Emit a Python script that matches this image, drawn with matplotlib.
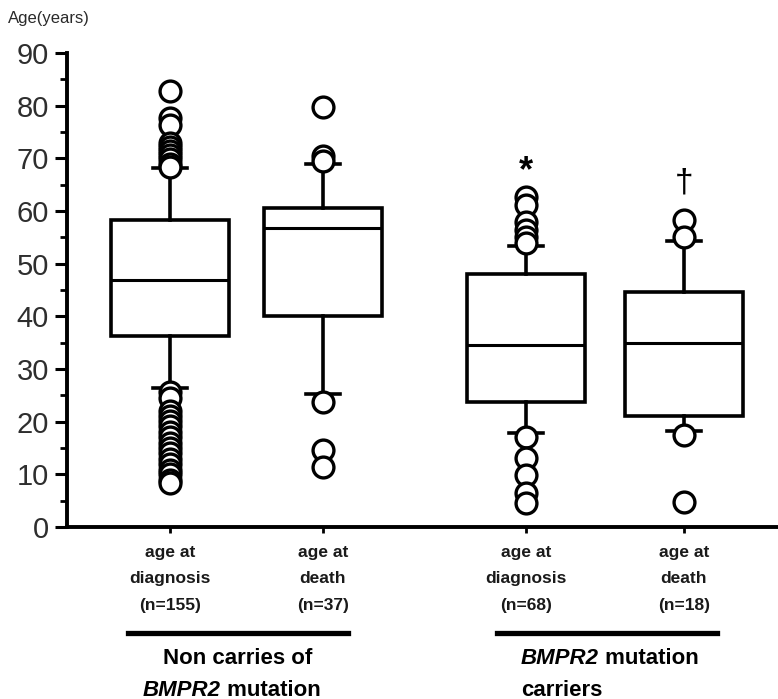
"""Age at diagnosis / death, BMPR2 carriers vs non carriers (box plots)."""

import matplotlib
matplotlib.use('agg')
from matplotlib import pyplot as plt
from matplotlib.lines import Line2D
from matplotlib.ticker import MultipleLocator

W, H = 778, 699

# --- data ---
labels = ['age at\ndiagnosis\n(n=155)', 'age at\ndeath\n(n=37)',
          'age at\ndiagnosis\n(n=68)', 'age at\ndeath\n(n=18)']
q1 = [36.3, 40.0, 23.8, 21.1]
medians = [46.9, 56.8, 34.6, 35.0]
q3 = [58.3, 60.5, 48.1, 44.7]
whisker_low = [26.3, 25.3, 17.8, 18.3]
whisker_high = [68.1, 68.9, 53.3, 54.3]
fliers = [
    [82.7, 77.6, 76.4, 73.0, 72.2, 71.4, 70.6, 69.8, 69.0, 68.3,
     25.6, 24.4, 22.0, 21.0, 20.2, 19.2, 18.0, 17.0, 16.0, 15.0,
     14.0, 13.0, 12.0, 10.8, 10.0, 9.0, 8.3],
    [79.8, 70.4, 69.4, 23.7, 14.7, 11.4],
    [62.6, 61.2, 58.0, 56.3, 55.0, 54.0, 17.1, 13.1, 9.9, 6.5, 4.6],
    [58.2, 55.1, 17.4, 4.8],
]
marks = ['*', '\u2020']
mark_y = [67.5, 65.3]

# layout: box centres in data units (1 unit = 153 px)
positions = [1.0, 2.0, 3.327, 4.359]


def fx(px):
    return px / W


def fy(py):
    return 1 - py / H


plt.rcParams['font.family'] = ['Liberation Sans', 'DejaVu Sans']

fig = plt.figure(figsize=(W / 100, H / 100), dpi=100)
ax = fig.add_axes([fx(67), fy(527), fx(778) - fx(67), fy(53) - fy(527)])

stats = []
for i in range(len(labels)):
    stats.append(dict(med=medians[i], q1=q1[i], q3=q3[i],
                      whislo=whisker_low[i], whishi=whisker_high[i],
                      fliers=fliers[i]))

ax.bxp(stats, positions=positions, widths=0.77, capwidths=0.22,
       patch_artist=True,
       boxprops=dict(facecolor='white', edgecolor='black', linewidth=2.6),
       medianprops=dict(color='black', linewidth=2.2),
       whiskerprops=dict(color='black', linewidth=2.6),
       capprops=dict(color='black', linewidth=2.6),
       flierprops=dict(marker='o', markersize=15, markerfacecolor='white',
                       markeredgecolor='black', markeredgewidth=2.4))

ax.text(positions[2], mark_y[0], marks[0], ha='center', va='center',
        fontsize=26, fontweight='bold')
ax.text(positions[3], mark_y[1], marks[1], ha='center', va='center',
        fontsize=24)

ax.set_ylim(0, 90)
ax.set_xlim(0.327, 4.974)
ax.yaxis.set_major_locator(MultipleLocator(10))
ax.yaxis.set_minor_locator(MultipleLocator(5))
ax.tick_params(axis='y', which='major', length=9, width=2.2,
               labelsize=21, labelcolor='#2e2e2e', pad=4)
ax.tick_params(axis='y', which='minor', length=5, width=2.0)

ax.set_xticks(positions, labels)
ax.tick_params(axis='x', length=4, width=2.0, pad=9)
for t in ax.get_xticklabels():
    t.set_fontsize(12.5)
    t.set_fontweight('bold')
    t.set_linespacing(1.95)
    t.set_color('#1a1a1a')

for side in ['top', 'right']:
    ax.spines[side].set_visible(False)
ax.spines['left'].set_linewidth(2.8)
ax.spines['bottom'].set_linewidth(2.8)

fig.text(fx(8), fy(19), 'Age(years)', fontsize=12, color='#2a2a2a',
         ha='left', va='center')

# group underlines
for x0, x1 in [(128, 348), (497, 717)]:
    fig.add_artist(Line2D([fx(x0), fx(x1)], [fy(633), fy(633)],
                          color='black', linewidth=3.8))

group_size = 16
fig.text(fx(238), fy(658), 'Non carries of', fontsize=group_size,
         fontweight='bold', ha='center', va='center')
t1 = fig.text(fx(143), fy(690), 'BMPR2', fontsize=group_size,
              fontweight='bold', style='italic', ha='left', va='center')
ax.annotate(' mutation', xy=(1, 0.5), xycoords=t1, fontsize=group_size,
            fontweight='bold', ha='left', va='center', annotation_clip=False)
t2 = fig.text(fx(521), fy(658), 'BMPR2', fontsize=group_size,
              fontweight='bold', style='italic', ha='left', va='center')
ax.annotate(' mutation', xy=(1, 0.5), xycoords=t2, fontsize=group_size,
            fontweight='bold', ha='left', va='center', annotation_clip=False)
fig.text(fx(521), fy(690), 'carriers', fontsize=group_size, fontweight='bold',
         ha='left', va='center')

fig.savefig('out.png', dpi=100)
